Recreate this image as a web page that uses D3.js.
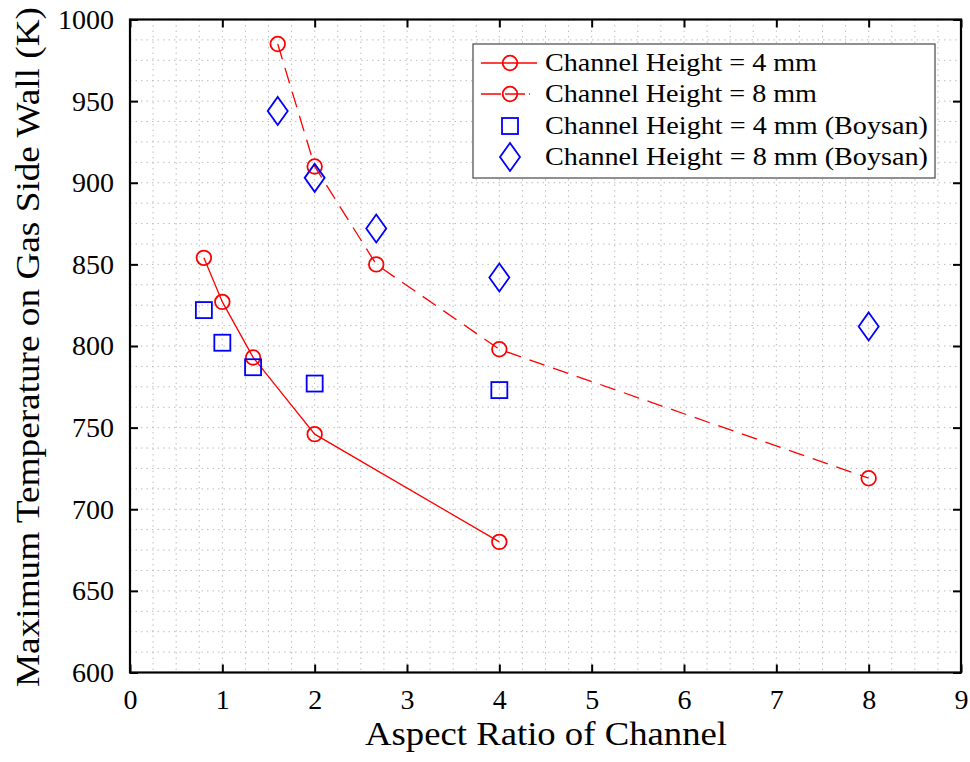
<!DOCTYPE html>
<html><head><meta charset="utf-8">
<script src="https://cdn.jsdelivr.net/npm/d3@7"></script>
<style>
body{margin:0;background:#fff;}
text{font-family:"Liberation Serif","Times New Roman",serif;fill:#000;}
</style></head><body>
<svg id="chart" width="970" height="762"></svg>
<script>
// data
var ratio4 = [0.8, 1, 1.333, 2, 4];
var temp4 = [854, 827, 793, 746, 680];
var ratio8 = [1.6, 2, 2.667, 4, 8];
var temp8 = [985, 910, 850, 798, 719];
var boysan4 = [822, 802, 787, 777, 773];
var boysan8 = [944, 903, 872, 842, 812];
var xTicks = [0,1,2,3,4,5,6,7,8,9];
var yTicks = [600,650,700,750,800,850,900,950,1000];
var legendLabels = ["Channel Height = 4 mm","Channel Height = 8 mm",
  "Channel Height = 4 mm (Boysan)","Channel Height = 8 mm (Boysan)"];

var svg = d3.select("#chart");
var m = {left:130, top:19.5, right:9, bottom:89.5};
var W = 970-m.left-m.right, H = 762-m.top-m.bottom;
var g = svg.append("g").attr("transform",`translate(${m.left},${m.top})`);

var x = d3.scaleLinear().domain([0,9]).range([0,W]);
var y = d3.scaleLinear().domain([600,1000]).range([H,0]);

// dotted minor grid (4 per major)
var gx = d3.range(0.25,9,0.25), gy = d3.range(612.5,1000,12.5);
g.append("g").selectAll("line").data(gx).enter().append("line")
  .attr("x1",d=>x(d)).attr("x2",d=>x(d)).attr("y1",0).attr("y2",H)
  .attr("stroke","#bdbdbd").attr("stroke-width",1).attr("stroke-dasharray","1.5,4");
g.append("g").selectAll("line").data(gy).enter().append("line")
  .attr("y1",d=>y(d)).attr("y2",d=>y(d)).attr("x1",0).attr("x2",W)
  .attr("stroke","#bdbdbd").attr("stroke-width",1).attr("stroke-dasharray","1.5,4");

// axes, ticks inward on all four sides
function styleAxis(sel){
  sel.attr("font-family",null).attr("font-size",null);
  sel.select(".domain").remove();
  sel.selectAll(".tick line").attr("stroke","#000").attr("stroke-width",2);
  sel.selectAll("text").style("font-family","'Liberation Serif', serif").style("font-size","28px");
}
g.append("g").attr("transform",`translate(0,${H})`)
  .call(d3.axisBottom(x).tickValues(xTicks).tickSize(-8).tickPadding(17).tickFormat(d3.format("d")))
  .call(styleAxis);
g.append("g").call(d3.axisTop(x).tickValues(xTicks).tickSize(-8).tickFormat(""))
  .call(styleAxis);
g.append("g")
  .call(d3.axisLeft(y).tickValues(yTicks).tickSize(-8).tickPadding(16).tickFormat(d3.format("d")))
  .call(styleAxis);
g.append("g").attr("transform",`translate(${W},0)`)
  .call(d3.axisRight(y).tickValues(yTicks).tickSize(-8).tickFormat(""))
  .call(styleAxis);
g.append("rect").attr("width",W).attr("height",H).attr("fill","none")
  .attr("stroke","#000").attr("stroke-width",2.2);

// series
var line = d3.line().x(d=>x(d[0])).y(d=>y(d[1]));
var s4 = ratio4.map((r,i)=>[r,temp4[i]]);
var s8 = ratio8.map((r,i)=>[r,temp8[i]]);
g.append("path").datum(s4).attr("d",line).attr("fill","none")
  .attr("stroke","#ff0000").attr("stroke-width",1.3);
g.append("path").datum(s8).attr("d",line).attr("fill","none")
  .attr("stroke","#ff0000").attr("stroke-width",1.3).attr("stroke-dasharray","16,9");
g.append("g").selectAll("circle").data(s4.concat(s8)).enter().append("circle")
  .attr("cx",d=>x(d[0])).attr("cy",d=>y(d[1])).attr("r",7.3)
  .attr("fill","none").attr("stroke","#ff0000").attr("stroke-width",1.8);

var sq = 16, dw = 10, dh = 14;
g.append("g").selectAll("rect").data(ratio4.map((r,i)=>[r,boysan4[i]])).enter().append("rect")
  .attr("x",d=>x(d[0])-sq/2).attr("y",d=>y(d[1])-sq/2).attr("width",sq).attr("height",sq)
  .attr("fill","none").attr("stroke","#0000ff").attr("stroke-width",1.8);
function diamond(cx,cy){ return `M${cx},${cy-dh}L${cx+dw},${cy}L${cx},${cy+dh}L${cx-dw},${cy}Z`; }
g.append("g").selectAll("path").data(ratio8.map((r,i)=>[r,boysan8[i]])).enter().append("path")
  .attr("d",d=>diamond(x(d[0]),y(d[1])))
  .attr("fill","none").attr("stroke","#0000ff").attr("stroke-width",1.8);

// titles
svg.append("text").attr("x",546).attr("y",745).attr("text-anchor","middle")
  .style("font-size","34px").attr("textLength",362).attr("lengthAdjust","spacingAndGlyphs")
  .text("Aspect Ratio of Channel");
svg.append("text").attr("transform","translate(39,347) rotate(-90)").attr("text-anchor","middle")
  .style("font-size","34px").attr("textLength",680).attr("lengthAdjust","spacingAndGlyphs")
  .text("Maximum Temperature on Gas Side Wall (K)");

// legend
var lg = svg.append("g");
lg.append("rect").attr("x",473).attr("y",44).attr("width",462).attr("height",134)
  .attr("fill","#fff").attr("stroke","#555").attr("stroke-width",1.3);
var rowY = [63, 94, 126, 157];
var lw = [272, 272, 383, 383];
legendLabels.forEach(function(t,i){
  lg.append("text").attr("x",545).attr("y",rowY[i]).attr("dy","0.33em")
    .style("font-size","25px").attr("textLength",lw[i]).attr("lengthAdjust","spacingAndGlyphs").text(t);
});
lg.append("line").attr("x1",481).attr("x2",537).attr("y1",rowY[0]).attr("y2",rowY[0])
  .attr("stroke","#ff0000").attr("stroke-width",1.3);
lg.append("line").attr("x1",481).attr("x2",530).attr("y1",rowY[1]).attr("y2",rowY[1])
  .attr("stroke","#ff0000").attr("stroke-width",1.3).attr("stroke-dasharray","20,4");
[0,1].forEach(function(i){
  lg.append("circle").attr("cx",510).attr("cy",rowY[i]).attr("r",7.3)
    .attr("fill","none").attr("stroke","#ff0000").attr("stroke-width",1.8);
});
lg.append("rect").attr("x",510-sq/2).attr("y",rowY[2]-sq/2).attr("width",sq).attr("height",sq)
  .attr("fill","none").attr("stroke","#0000ff").attr("stroke-width",1.8);
lg.append("path").attr("d",diamond(510,rowY[3]))
  .attr("fill","none").attr("stroke","#0000ff").attr("stroke-width",1.8);
</script>
</body></html>
